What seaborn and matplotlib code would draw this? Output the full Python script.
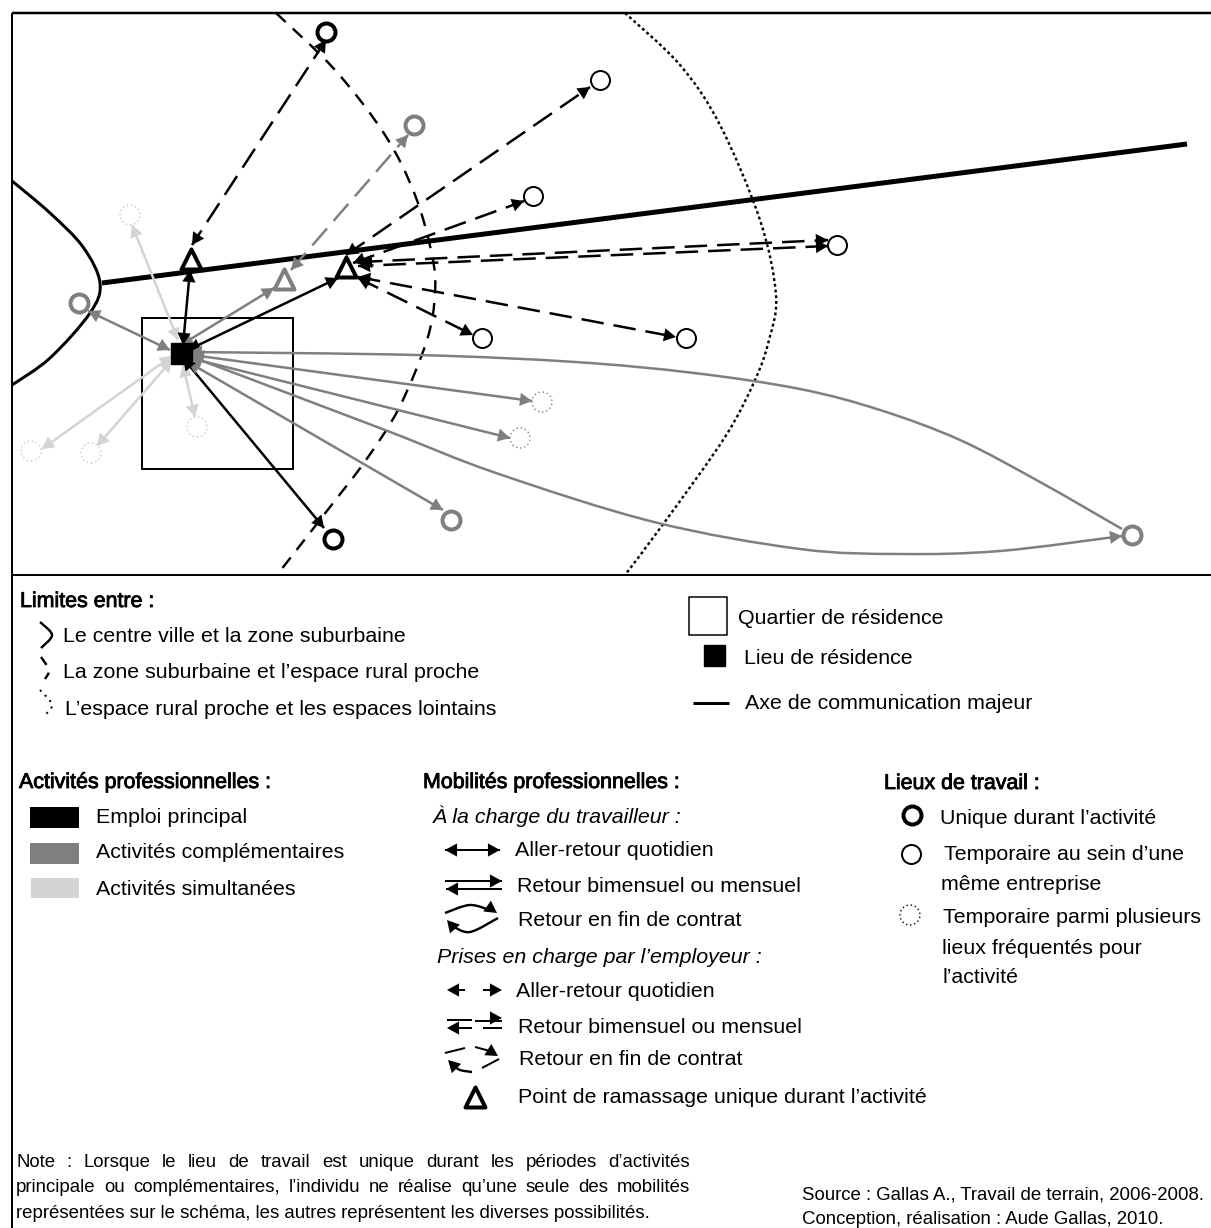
import matplotlib
matplotlib.use("Agg")
import matplotlib.pyplot as plt
import matplotlib.patheffects as pe
from matplotlib.patches import PathPatch, Rectangle
from matplotlib.path import Path
import numpy as np
import pandas as pd
import seaborn as sns

# ---------------------------------------------------------
# 1. Values read from the schema (picture pixels, y going down)
# ---------------------------------------------------------
BLACK = "#000000"
GRAY = "#7f7f7f"
LIGHT = "#d4d4d4"

# work places and pick-up points
heavy_black_x = [326, 333, 912]
heavy_black_y = [32, 539, 815]
thin_black_x = [600, 533, 837, 482, 686, 911]
thin_black_y = [80, 196, 245, 338, 338, 854]
heavy_gray_x = [414, 79, 451, 1132]
heavy_gray_y = [125, 303, 520, 535]
dotted_light_x = [130, 31, 91, 197]
dotted_light_y = [215, 451, 453, 427]
dotted_gray_x = [542, 520]
dotted_gray_y = [402, 438]
dotted_legend_x = [910]
dotted_legend_y = [915]
triangle_black_x = [191, 346, 475]
triangle_black_y = [259, 267, 1097]
triangle_gray_x = [284]
triangle_gray_y = [279]

# boundaries
centre_x = [12, 50, 83, 100, 90, 50, 12]
centre_y = [181, 213, 247, 283, 313, 358, 385]
suburb_x = [276, 335, 385, 415, 432, 435, 427, 399, 366, 330, 277]
suburb_y = [13, 70, 135, 195, 255, 293, 340, 408, 460, 507, 575]
rural_x = [625, 680, 720, 760, 776, 769, 755, 725, 664, 625]
rural_y = [13, 65, 125, 220, 295, 340, 380, 437, 523, 575]
road_x = [102, 1187]
road_y = [283, 144]

# long curved trips
upper_curve_x = [192, 417, 575, 694, 800, 880, 960, 1040, 1122]
upper_curve_y = [352, 355, 362, 373, 389, 410, 440, 482, 529]
lower_curve_x = [192, 385, 496, 654, 800, 900, 1000, 1122]
lower_curve_y = [357, 430, 473, 522, 549, 554, 551, 536]

# straight trips: x0, y0, x1, y1
solid_black = [(183, 345, 190, 270), (188, 350, 338, 278), (183, 358, 324, 528)]
solid_gray = [(181, 345, 274, 288), (170, 350, 88, 311), (192, 355, 532, 401),
              (190, 358, 510, 438), (188, 362, 443, 510)]
solid_light = [(178, 340, 132, 225), (172, 356, 42, 449), (172, 360, 97, 446),
               (183, 365, 195, 417)]
dashed_black = [(326, 40, 192, 245), (346, 255, 590, 87), (353, 263, 524, 201),
                (360, 262, 828, 240), (828, 246, 358, 266), (358, 278, 473, 335),
                (358, 277, 676, 337)]
dashed_gray = [(291, 270, 408, 135)]

# legend glyphs
limit_1_x, limit_1_y = [40, 52, 41], [622, 635, 648]
limit_2_x, limit_2_y = [41, 49, 45], [657, 670, 679]
limit_3_x, limit_3_y = [40, 52, 43], [690, 705, 717]
worker_up_x, worker_up_y = [445, 470, 492], [913, 905, 911]
worker_down_x, worker_down_y = [498, 470, 452], [918, 932, 926]
employer_arc_x, employer_arc_y = [472, 460, 453], [1072, 1070, 1065]

# text: x, baseline y, string, kind
labels = [
    (20, 607, "Limites entre :", "head"), (63, 642, "Le centre ville et la zone suburbaine", "normal"),
    (63, 678, "La zone suburbaine et l’espace rural proche", "normal"),
    (65, 715, "L’espace rural proche et les espaces lointains", "normal"),
    (738, 624, "Quartier de résidence", "normal"), (744, 664, "Lieu de résidence", "normal"),
    (745, 709, "Axe de communication majeur", "normal"),
    (19, 788, "Activités professionnelles :", "head"), (96, 823, "Emploi principal", "normal"),
    (96, 858, "Activités complémentaires", "normal"), (96, 895, "Activités simultanées", "normal"),
    (423, 788, "Mobilités professionnelles :", "head"),
    (433, 823, "À la charge du travailleur :", "italic"), (515, 856, "Aller-retour quotidien", "normal"),
    (517, 892, "Retour bimensuel ou mensuel", "normal"), (518, 926, "Retour en fin de contrat", "normal"),
    (437, 963, "Prises en charge par l’employeur :", "italic"), (516, 997, "Aller-retour quotidien", "normal"),
    (518, 1033, "Retour bimensuel ou mensuel", "normal"), (519, 1065, "Retour en fin de contrat", "normal"),
    (518, 1103, "Point de ramassage unique durant l’activité", "normal"),
    (884, 789, "Lieux de travail :", "head"), (940, 824, "Unique durant l’activité", "normal"),
    (944, 860, "Temporaire au sein d’une", "normal"), (941, 890, "même entreprise", "normal"),
    (943, 923, "Temporaire parmi plusieurs", "normal"), (942, 954, "lieux fréquentés pour", "normal"),
    (942, 983, "l’activité", "normal"),
]
note_lines = [
    (16, 1167, 690, "Note : Lorsque le lieu de travail est unique durant les périodes d’activités"),
    (16, 1192, 690, "principale ou complémentaires, l’individu ne réalise qu’une seule des mobilités"),
    (16, 1218, None, "représentées sur le schéma, les autres représentent les diverses possibilités."),
]
source_lines = [(802, 1199, "Source : Gallas A., Travail de terrain, 2006-2008."),
                (802, 1224, "Conception, réalisation : Aude Gallas, 2010.")]

# ---------------------------------------------------------
# 2. Canvas in picture pixels
# ---------------------------------------------------------
sns.set_theme(style="white")
plt.rcParams["font.family"] = ["Liberation Sans", "DejaVu Sans"]

fig = plt.figure(figsize=(12.11, 12.28), dpi=100)
ax = fig.add_axes([0, 0, 1, 1])
PX = 0.72  # one pixel in points


def curve(xs, ys, color=BLACK, width=2.0, dashes=None):
    d = pd.DataFrame({"x": xs, "y": ys})
    line = sns.lineplot(data=d, x="x", y="y", sort=False, estimator=None, color=color,
                        linewidth=width * PX, ax=ax, legend=False).lines[-1]
    if dashes:
        line.set_dashes(dashes)
    line.set_solid_capstyle("butt")
    line.set_dash_capstyle("butt")
    return line


def smooth(xs, ys, color=BLACK, width=2.0, dashes=None):
    # bezier through the read points, control points taken from the neighbours
    p = np.column_stack([xs, ys]).astype(float)
    q = np.vstack([p[0], p, p[-1]])
    verts = [p[0]]
    for i in range(1, len(q) - 2):
        verts.append(q[i] + (q[i + 1] - q[i - 1]) / 6)
        verts.append(q[i + 1] - (q[i + 2] - q[i]) / 6)
        verts.append(q[i + 1])
    codes = [Path.MOVETO] + [Path.CURVE4] * (len(verts) - 1)
    ls = (0, dashes) if dashes else "-"
    ax.add_patch(PathPatch(Path(verts, codes), fill=False, ec=color, lw=width * PX, ls=ls,
                           capstyle="butt"))


def head(x0, y0, x1, y1, color=BLACK, size=14):
    ax.annotate("", xy=(x1, y1), xytext=(x0, y0),
                arrowprops=dict(arrowstyle="-|>,head_length=0.62,head_width=0.34", color=color,
                                lw=0, mutation_scale=size, shrinkA=0, shrinkB=0))


def trip(x0, y0, x1, y1, color, width=2.5, dashes=None, start=True, end=True):
    curve([x0, x1], [y0, y1], color, width, dashes)
    v = np.array([x1 - x0, y1 - y0], dtype=float)
    v = v / np.hypot(*v) * 6
    if end:
        head(x1 - v[0], y1 - v[1], x1, y1, color)
    if start:
        head(x0 + v[0], y0 + v[1], x0, y0, color)


def places(xs, ys, marker, color, size, width, ls="-"):
    d = pd.DataFrame({"x": xs, "y": ys})
    sns.scatterplot(data=d, x="x", y="y", marker=marker, s=(size * PX) ** 2, facecolor="white",
                    edgecolor=color, linewidth=width * PX, linestyle=ls, ax=ax, legend=False, zorder=5)


# ---------------------------------------------------------
# 3. Frame, boundaries, district
# ---------------------------------------------------------
curve([12, 12], [13, 1228], width=2)
curve([12, 1211], [13, 13], width=2.5)
curve([12, 1211], [575, 575], width=2)
smooth(centre_x, centre_y, width=3)
smooth(suburb_x, suburb_y, width=2.4, dashes=(5.5, 4))
smooth(rural_x, rural_y, width=2.4, dashes=(1.2, 1.2))
curve(road_x, road_y, width=5)
ax.add_patch(Rectangle((142, 318), 151, 151, fill=False, ec=BLACK, lw=2 * PX))

# ---------------------------------------------------------
# 4. Trips
# ---------------------------------------------------------
for t in solid_light:
    trip(*t, LIGHT)
for t in solid_gray:
    trip(*t, GRAY)
for t in solid_black:
    trip(*t, BLACK)
for t in dashed_gray:
    trip(*t, GRAY, dashes=(9, 4))
for t in dashed_black:
    trip(*t, BLACK, dashes=(9, 4))
smooth(upper_curve_x, upper_curve_y, GRAY, 2.5)
smooth(lower_curve_x, lower_curve_y, GRAY, 2.5)
head(198, 352, 190, 352, GRAY)
head(1113, 537, 1122, 536, GRAY)

# ---------------------------------------------------------
# 5. Markers
# ---------------------------------------------------------
places(heavy_black_x, heavy_black_y, "o", BLACK, 18, 4)
places(thin_black_x, thin_black_y, "o", BLACK, 19, 2)
places(heavy_gray_x, heavy_gray_y, "o", GRAY, 18, 4)
places(dotted_light_x, dotted_light_y, "o", LIGHT, 20, 1.6, (0, (1, 1.6)))
places(dotted_gray_x, dotted_gray_y, "o", GRAY, 20, 1.4, (0, (1, 2)))
places(dotted_legend_x, dotted_legend_y, "o", BLACK, 20, 1.4, (0, (1, 2)))
places(triangle_black_x, triangle_black_y, "^", BLACK, 20, 4)
places(triangle_gray_x, triangle_gray_y, "^", GRAY, 20, 4)
ax.add_patch(Rectangle((171, 343), 21, 21, fc=BLACK, ec=BLACK, zorder=6))

# ---------------------------------------------------------
# 6. Legends
# ---------------------------------------------------------
smooth(limit_1_x, limit_1_y, width=2.4)
smooth(limit_2_x, limit_2_y, width=2.4, dashes=(4, 3.5))
smooth(limit_3_x, limit_3_y, width=2.0, dashes=(1, 2.5))
ax.add_patch(Rectangle((689, 597), 38, 38, fill=False, ec=BLACK, lw=1.5 * PX))
ax.add_patch(Rectangle((704, 645), 21, 21, fc=BLACK, ec=BLACK))
curve([693, 729], [703, 703], width=3)
ax.add_patch(Rectangle((30, 807), 49, 21, fc=BLACK, ec="none"))
ax.add_patch(Rectangle((30, 843), 49, 21, fc=GRAY, ec="none"))
ax.add_patch(Rectangle((31, 878), 48, 20, fc=LIGHT, ec="none"))

trip(445, 850, 500, 850, BLACK, 2)
trip(445, 881, 502, 881, BLACK, 2, start=False)
trip(502, 889, 446, 889, BLACK, 2, start=False)
smooth(worker_up_x, worker_up_y, width=2.4)
head(487, 906, 497, 913)
smooth(worker_down_x, worker_down_y, width=2.4)
head(454, 928, 447, 920)

curve([452, 465], [990, 990], width=2)
head(455, 990, 447, 990)
curve([483, 497], [990, 990], width=2)
head(493, 990, 502, 990)
curve([447, 472], [1020, 1020], width=2)
curve([475, 502], [1021, 1021], width=2)
head(492, 1018, 502, 1018)
curve([452, 472], [1028, 1028], width=2)
head(455, 1028, 447, 1028)
curve([483, 502], [1028, 1028], width=2)
curve([445, 465], [1053, 1048], width=2)
curve([475, 490], [1047, 1051], width=2)
head(490, 1051, 498, 1056)
curve([499, 482], [1059, 1068], width=2)
smooth(employer_arc_x, employer_arc_y, width=2.4)
head(454, 1066, 448, 1060)

# ---------------------------------------------------------
# 7. Text
# ---------------------------------------------------------
FS = 15.4
for x, y, s, kind in labels:
    t = ax.text(x, y, s, fontsize=FS, va="baseline", ha="left", color="black",
                style="italic" if kind == "italic" else "normal")
    if kind == "head":
        t.set_path_effects([pe.withStroke(linewidth=0.6, foreground="black")])

ax.set_xlim(0, 1211)
ax.set_ylim(1228, 0)
ax.axis("off")

renderer = fig.canvas.get_renderer()
NOTE_FS = 13.4
for x, y, right, s in note_lines:
    if right is None:
        ax.text(x, y, s, fontsize=NOTE_FS, va="baseline", ha="left", color="black")
        continue
    # justified line: share out the space left between the words
    words = s.split(" ")
    widths = []
    for w in words:
        t = ax.text(0, 0, w, fontsize=NOTE_FS)
        widths.append(t.get_window_extent(renderer).width)
        t.remove()
    gap = (right - x - sum(widths)) / (len(words) - 1)
    cur = x
    for w, wd in zip(words, widths):
        ax.text(cur, y, w, fontsize=NOTE_FS, va="baseline", ha="left", color="black")
        cur += wd + gap
for x, y, s in source_lines:
    ax.text(x, y, s, fontsize=NOTE_FS, va="baseline", ha="left", color="black")

fig.savefig("out.png", dpi=100, facecolor="white")
